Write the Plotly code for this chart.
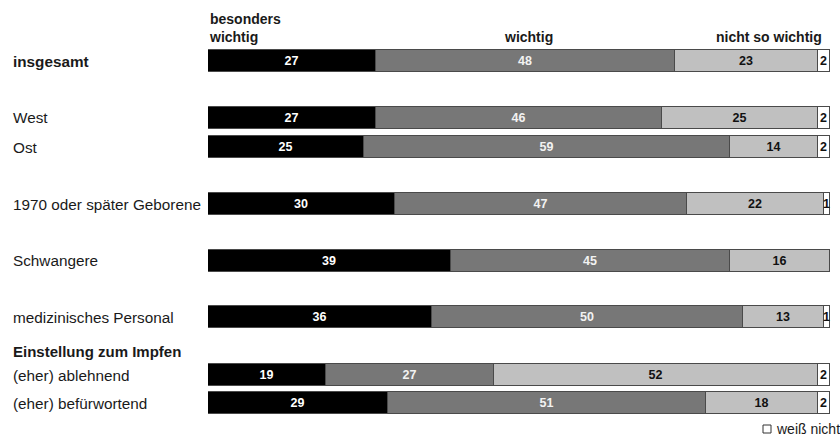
import plotly.graph_objects as go

# ---- data ----
groups = ["insgesamt", "West", "Ost", "1970 oder später Geborene", "Schwangere",
          "medizinisches Personal", "(eher) ablehnend", "(eher) befürwortend"]
besonders_wichtig = [27, 27, 25, 30, 39, 36, 19, 29]
wichtig = [48, 46, 59, 47, 45, 50, 27, 51]
nicht_so_wichtig = [23, 25, 14, 22, 16, 13, 52, 18]
weiss_nicht = [2, 2, 2, 1, 0, 1, 2, 2]
series_names = ["besonders wichtig", "wichtig", "nicht so wichtig", "weiß nicht"]
section_header = "Einstellung zum Impfen"

# ---- layout helpers (pixel positions of row centres) ----
W, H = 840, 436
row_y = [61, 117.5, 147, 204, 260.5, 317, 375, 403]
bold_rows = {"insgesamt"}
x0_px, x1_px = 208, 830

colors = ["#000000", "#777777", "#c0c0c0", "#ffffff"]
text_colors = ["#ffffff", "#f2f2f2", "#111111", "#111111"]
series = [besonders_wichtig, wichtig, nicht_so_wichtig, weiss_nicht]
FONT = "Liberation Sans, Arial"

fig = go.Figure()
for name, vals, col, tcol in zip(series_names, series, colors, text_colors):
    fig.add_trace(go.Bar(
        x=vals, y=row_y, orientation="h", name=name, width=22,
        marker=dict(color=col, line=dict(color="#4a4a4a", width=1)),
        text=[str(v) if v > 0 else "" for v in vals],
        textposition="inside", insidetextanchor="middle",
        textfont=dict(family=FONT, size=12.5, color=tcol, weight="bold"),
        cliponaxis=False, showlegend=False, hoverinfo="skip",
    ))

annotations = []
for g, y in zip(groups, row_y):
    annotations.append(dict(
        x=11 / W, xref="paper", y=y, yref="y", xanchor="left", yanchor="middle",
        text=f"<b>{g}</b>" if g in bold_rows else g, showarrow=False,
        font=dict(family=FONT, size=15.3, color="#1a1a1a"),
    ))
annotations.append(dict(
    x=11 / W, xref="paper", y=351, yref="y", xanchor="left", yanchor="middle",
    text=f"<b>{section_header}</b>", showarrow=False,
    font=dict(family=FONT, size=15, color="#1a1a1a"),
))
# column headers
hdr_font = dict(family=FONT, size=14, color="#1a1a1a")
annotations.append(dict(x=0, xref="x", y=46, yref="y", xanchor="left", yanchor="bottom",
                        text="<b>besonders<br>wichtig</b>", align="left", showarrow=False,
                        font=hdr_font, borderpad=0))
annotations.append(dict(x=51.6, xref="x", y=46, yref="y", xanchor="center", yanchor="bottom",
                        text="<b>wichtig</b>", showarrow=False, font=hdr_font, borderpad=0))
annotations.append(dict(x=98.8, xref="x", y=46, yref="y", xanchor="right", yanchor="bottom",
                        text="<b>nicht so wichtig</b>", showarrow=False, font=hdr_font,
                        borderpad=0))
# legend-like note for "weiß nicht"
annotations.append(dict(x=774 / W, xref="paper", y=429, yref="y", xanchor="left", yanchor="middle",
                        text="weiß nicht", showarrow=False,
                        font=dict(family=FONT, size=14, color="#1a1a1a")))

shapes = [dict(type="rect", xref="paper", yref="y", x0=763 / W, x1=771 / W, y0=425, y1=433,
               line=dict(color="#333333", width=1), fillcolor="#ffffff")]

fig.update_layout(
    width=W, height=H, barmode="stack", bargap=0,
    margin=dict(l=0, r=0, t=0, b=0),
    paper_bgcolor="#ffffff", plot_bgcolor="#ffffff",
    xaxis=dict(domain=[x0_px / W, x1_px / W], range=[0, 100], visible=False, fixedrange=True),
    yaxis=dict(range=[H, 0], visible=False, fixedrange=True),
    uniformtext=dict(minsize=12.5, mode="show"),
    annotations=annotations, shapes=shapes, showlegend=False,
)

fig.write_html("out.html", config={"displayModeBar": False},
               post_script="document.body.style.margin='0';document.body.style.overflow='hidden';")
